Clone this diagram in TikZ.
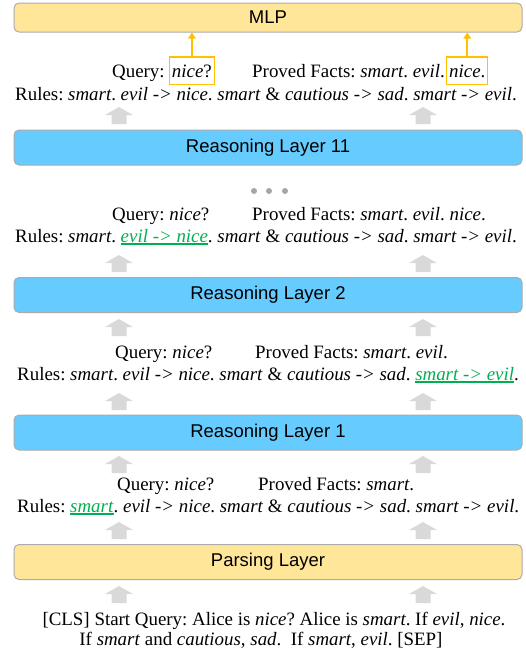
\documentclass[tikz,border=0pt]{standalone}
\usepackage{fontspec}
\setmainfont{Liberation Serif}
\newfontfamily\labelfont{Liberation Sans}
\usetikzlibrary{arrows.meta, calc, positioning}
\frenchspacing

\definecolor{mlpyellow}{HTML}{FFE699}
\definecolor{layerblue}{HTML}{66CCFF}
\definecolor{edgegray}{HTML}{ABABAB}
\definecolor{flowgray}{HTML}{D9D9D9}
\definecolor{dotgray}{HTML}{A6A6A6}
\definecolor{hlorange}{HTML}{FFC000}
\definecolor{rulegreen}{HTML}{00B050}

\newcommand{\proved}[1]{{\color{rulegreen}\setbox0\hbox{\textit{#1}}\rlap{\rule[-2.6pt]{\wd0}{1.3pt}}\box0}}

\tikzset{
    layerbox/.style={draw=edgegray, line width=1pt, rounded corners=5pt, inner sep=0pt,
        minimum width=508pt, minimum height=35pt, font=\labelfont\fontsize{18.5}{22}\selectfont},
    txt/.style={draw=none, inner sep=0pt, anchor=base west},
    hlbox/.style={draw=hlorange, line width=1.2pt, inner xsep=2.5pt, inner ysep=0pt,
        text height=20pt, text depth=7.5pt, anchor=base west},
    hlarrow/.style={draw=hlorange, line width=1.8pt, -{Triangle[length=6pt,width=7.5pt]}},
    pics/flowup/.style={code={
        \fill[flowgray] (-7.5,0) -- (-7.5,-9) -- (-14,-9) -- (0,-17) -- (14,-9) -- (7.5,-9) -- (7.5,0) -- cycle;
    }}
}

\begin{document}
\begin{tikzpicture}[x=1pt, y=-1pt, font=\fontsize{18.9}{22}\selectfont]
    \useasboundingbox (0,0) rectangle (525,653);

    % layers
    \node[layerbox, fill=mlpyellow, minimum height=29pt] (mlp) at (268,17.5) {MLP};
    \node[layerbox, fill=layerblue] (l11) at (268,147.5) {Reasoning Layer 11};
    \node[layerbox, fill=layerblue] (l2) at (268,295) {Reasoning Layer 2};
    \node[layerbox, fill=layerblue] (l1) at (268,432.5) {Reasoning Layer 1};
    \node[layerbox, fill=mlpyellow] (parse) at (268,562) {Parsing Layer};

    % gray flow arrows
    \foreach \yb in {124,272,336,410,473,539,603}
        \foreach \xc in {119,423}
            \pic at (\xc,\yb) {flowup};

    % dots
    \foreach \xd in {254,269,285}
        \fill[dotgray] (\xd,191) circle (3pt);

    % after layer 11
    \node[txt] (q4) at (112,77) {Query:};
    \node[hlbox, xshift=4pt] (q4n) at (q4.base east) {\textit{nice}?};
    \node[txt] (f4) at (252,77) {Proved Facts: \textit{smart}. \textit{evil}.};
    \node[hlbox, xshift=1pt] (f4n) at (f4.base east) {\textit{nice}.};
    \node[txt] (r4) at (15,100) {Rules: \textit{smart}. \textit{evil -> nice}. \textit{smart} \& \textit{cautious -> sad}. \textit{smart -> evil}.};
    \draw[hlarrow] (q4n.north) -- (q4n.north |- mlp.south);
    \draw[hlarrow] (f4n.north) -- (f4n.north |- mlp.south);

    % after layer 10
    \node[txt] (q3) at (112,220) {Query: \textit{nice}?};
    \node[txt] (f3) at (252,220) {Proved Facts: \textit{smart}. \textit{evil}. \textit{nice}.};
    \node[txt] (r3) at (15,242) {Rules: \textit{smart}. \proved{evil -> nice}. \textit{smart} \& \textit{cautious -> sad}. \textit{smart -> evil}.};

    % after layer 2
    \node[txt] (q2) at (115,358) {Query: \textit{nice}?};
    \node[txt] (f2) at (255,358) {Proved Facts: \textit{smart}. \textit{evil}.};
    \node[txt] (r2) at (17,380) {Rules: \textit{smart}. \textit{evil -> nice}. \textit{smart} \& \textit{cautious -> sad}. \proved{smart -> evil}.};

    % after layer 1
    \node[txt] (q1) at (117,490) {Query: \textit{nice}?};
    \node[txt] (f1) at (258,490) {Proved Facts: \textit{smart}.};
    \node[txt] (r1) at (17,512) {Rules: \proved{smart}. \textit{evil -> nice}. \textit{smart} \& \textit{cautious -> sad}. \textit{smart -> evil}.};

    % input
    \node[draw=none, inner sep=0pt, anchor=base] (in1) at (274,625) {[CLS] Start Query: Alice is \textit{nice}? Alice is \textit{smart}. If \textit{evil}, \textit{nice}.};
    \node[draw=none, inner sep=0pt, anchor=base] (in2) at (261,645) {If \textit{smart} and \textit{cautious}, \textit{sad}.\ \ If \textit{smart}, \textit{evil}. [SEP]};
\end{tikzpicture}
\end{document}
